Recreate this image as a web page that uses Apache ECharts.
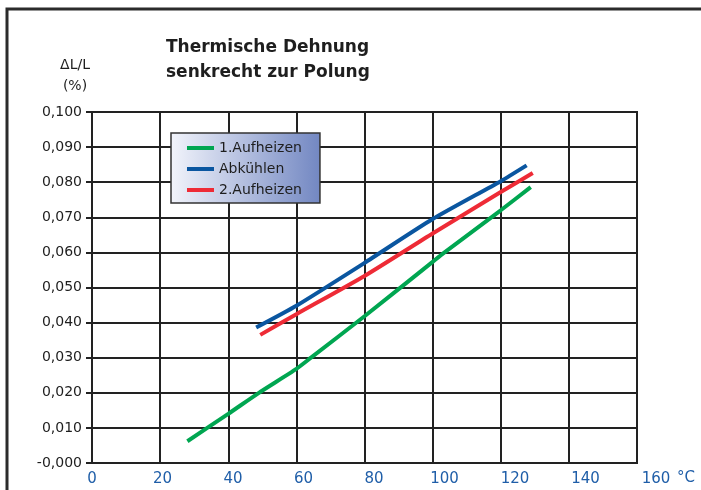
<!DOCTYPE html>
<html>
<head>
<meta charset="utf-8">
<script src="https://cdn.jsdelivr.net/npm/echarts@6/dist/echarts.min.js"></script>
<style>
  html, body { margin: 0; padding: 0; background: #fff; }
  #chart { width: 701px; height: 490px; }
</style>
</head>
<body>
<div id="chart"></div>
<script>
// values
const tempAufheizen1 = [28, 40, 49, 60, 64.3, 80, 100, 103.5, 120, 128.8]
const dlAufheizen1 = [0.0062, 0.0140, 0.0200, 0.0268, 0.0300, 0.0418, 0.0573, 0.0600, 0.0720, 0.0786]
const tempAbkuehlen = [48.2, 60, 80, 100, 120, 127.6]
const dlAbkuehlen = [0.0386, 0.0448, 0.0570, 0.0695, 0.0803, 0.0848]
const tempAufheizen2 = [49.4, 60, 80, 100, 120, 129.4]
const dlAufheizen2 = [0.0365, 0.0424, 0.0533, 0.0654, 0.0772, 0.0826]

const yTickLabels = ['-0,000', '0,010', '0,020', '0,030', '0,040', '0,050',
  '0,060', '0,070', '0,080', '0,090', '0,100']
const xTickLabels = ['0', '20', '40', '60', '80', '100', '120', '140', '160']

const font = 'DejaVu Sans'
const zip = (xs, ys) => xs.map((x, i) => [x, ys[i]])

const chart = echarts.init(document.getElementById('chart'), null, { renderer: 'canvas' })

chart.setOption({
  animation: false,
  textStyle: { fontFamily: font },
  graphic: [
    {
      type: 'rect',
      shape: { x: 7, y: 9, width: 720, height: 500 },
      style: { fill: 'none', stroke: '#2b2b2b', lineWidth: 3 },
      silent: true
    },
    {
      type: 'text', left: 166, top: 35,
      style: {
        text: 'Thermische Dehnung\nsenkrecht zur Polung',
        font: 'bold 17px "DejaVu Sans"', fill: '#1e1e1e', lineHeight: 25
      }
    },
    {
      type: 'text', x: 75, y: 55,
      style: {
        text: 'ΔL/L\n(%)', font: '14px "DejaVu Sans"', fill: '#1e1e1e',
        align: 'center', lineHeight: 21
      }
    },
    {
      type: 'text', x: 677, y: 471,
      style: { text: '°C', font: '15px "DejaVu Sans"', fill: '#1f5ea8' }
    }
  ],
  legend: {
    orient: 'vertical',
    left: 171,
    top: 133,
    padding: [8, 18, 6, 16],
    itemGap: 7,
    itemWidth: 27,
    itemHeight: 4,
    icon: 'rect',
    borderColor: '#333',
    borderWidth: 1.5,
    backgroundColor: new echarts.graphic.LinearGradient(0, 0, 1, 0, [
      { offset: 0, color: '#f2f4fb' },
      { offset: 1, color: '#7287c2' }
    ]),
    textStyle: { fontFamily: font, fontSize: 14, color: '#1e1e1e' },
    data: ['1.Aufheizen', 'Abkühlen', '2.Aufheizen']
  },
  grid: [
    { left: 92, right: 64, top: 112, bottom: 27, show: true, borderColor: '#222', borderWidth: 2 },
    { left: 92, right: 45, top: 112, bottom: 27 }
  ],
  xAxis: [
    {
      type: 'value', gridIndex: 0, min: 0, max: 160, interval: 20,
      axisLine: { lineStyle: { color: '#222', width: 2 } },
      axisTick: { show: false },
      axisLabel: { show: false },
      splitLine: { lineStyle: { color: '#222', width: 2 } }
    },
    {
      type: 'value', gridIndex: 1, min: 0, max: 160, interval: 20,
      axisLine: { show: false },
      axisTick: { show: false },
      splitLine: { show: false },
      axisLabel: {
        margin: 9, fontSize: 15, color: '#1f5ea8', fontFamily: font,
        formatter: (v) => xTickLabels[Math.round(v / 20)]
      }
    }
  ],
  yAxis: [
    {
      type: 'value', gridIndex: 0, min: 0, max: 0.1, interval: 0.01,
      axisLine: { show: true, lineStyle: { color: '#222', width: 2 } },
      axisTick: { show: true, length: 6, lineStyle: { color: '#222', width: 2 } },
      axisLabel: {
        margin: 10, fontSize: 14, color: '#1e1e1e', fontFamily: font,
        formatter: (v) => yTickLabels[Math.round(v / 0.01)]
      },
      splitLine: { lineStyle: { color: '#222', width: 2 } }
    },
    {
      type: 'value', gridIndex: 1, min: 0, max: 0.1, show: false
    }
  ],
  series: [
    {
      name: '1.Aufheizen', type: 'line', xAxisIndex: 0, yAxisIndex: 0,
      data: zip(tempAufheizen1, dlAufheizen1),
      showSymbol: false, smooth: 0.2,
      itemStyle: { color: '#00a651' },
      lineStyle: { width: 4, color: '#00a651' }
    },
    {
      name: 'Abkühlen', type: 'line', xAxisIndex: 0, yAxisIndex: 0,
      data: zip(tempAbkuehlen, dlAbkuehlen),
      showSymbol: false, smooth: 0.2,
      itemStyle: { color: '#0a56a0' },
      lineStyle: { width: 4, color: '#0a56a0' }
    },
    {
      name: '2.Aufheizen', type: 'line', xAxisIndex: 0, yAxisIndex: 0,
      data: zip(tempAufheizen2, dlAufheizen2),
      showSymbol: false, smooth: 0.2,
      itemStyle: { color: '#ee2b36' },
      lineStyle: { width: 4, color: '#ee2b36' }
    }
  ]
})
</script>
</body>
</html>
